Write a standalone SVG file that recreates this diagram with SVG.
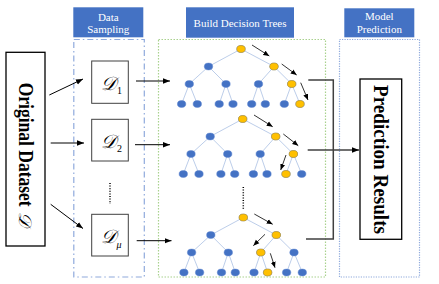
<svg xmlns="http://www.w3.org/2000/svg" xmlns:xlink="http://www.w3.org/1999/xlink" width="439" height="284" viewBox="0 0 439 284">
<style>
.hdr{fill:#4472C4}
.ht{font-family:"Liberation Serif",serif;font-size:11px;fill:#fff;text-anchor:middle}
.big{font-family:"Liberation Serif",serif;font-weight:bold;fill:#000}
.dl{font-family:"DejaVu Serif","Liberation Serif",serif;font-style:italic;fill:#000}
.box{fill:#fff;stroke:#000;stroke-width:1.3}
.dbox{fill:#fff;stroke:#404040;stroke-width:1}
.edge{stroke:#b4c7e7;stroke-width:0.9;fill:none}
.bn{fill:#4472C4;stroke:#5b83cf;stroke-width:0.5}
.on{fill:#FFC000;stroke:#c39a2c;stroke-width:0.6}
.ta{stroke:#000;stroke-width:0.8;fill:none;marker-end:url(#sa)}
.ma{stroke:#000;stroke-width:1;fill:none;marker-end:url(#ma)}
.br{stroke:#404040;stroke-width:1.5;fill:none}
</style>
<defs>
<marker id="sa" markerUnits="userSpaceOnUse" markerWidth="6" markerHeight="6" viewBox="0 0 6 6" refX="6" refY="3" orient="auto"><path d="M0,0.5 L6,3 L0,5.5 Z" fill="#000"/></marker>
<marker id="ma" markerUnits="userSpaceOnUse" markerWidth="7" markerHeight="7" viewBox="0 0 7 7" refX="7" refY="3.5" orient="auto"><path d="M0,0.8 L7,3.5 L0,6.2 Z" fill="#000"/></marker>
<g id="tree">
<path class="edge" d="M0,0 L-32.5,17.5 M0,0 L33,17.5 M-32.5,17.5 L-51.7,35 M-32.5,17.5 L-15,35 M33,17.5 L17.5,35 M33,17.5 L50.7,35 M-51.7,35 L-59.4,55 M-51.7,35 L-43.7,55 M-15,35 L-21.8,55 M-15,35 L-8,55 M17.5,35 L10.7,55 M17.5,35 L24.3,55 M50.7,35 L43.3,55 M50.7,35 L59,55"/>
<ellipse class="bn" cx="0" cy="0" rx="4.2" ry="3.4"/>
<ellipse class="bn" cx="-32.5" cy="17.5" rx="4.2" ry="3.4"/>
<ellipse class="bn" cx="33" cy="17.5" rx="4.2" ry="3.4"/>
<ellipse class="bn" cx="-51.7" cy="35" rx="4.2" ry="3.4"/>
<ellipse class="bn" cx="-15" cy="35" rx="4.2" ry="3.4"/>
<ellipse class="bn" cx="17.5" cy="35" rx="4.2" ry="3.4"/>
<ellipse class="bn" cx="50.7" cy="35" rx="4.2" ry="3.4"/>
<ellipse class="bn" cx="-59.4" cy="55" rx="4.2" ry="3.4"/>
<ellipse class="bn" cx="-43.7" cy="55" rx="4.2" ry="3.4"/>
<ellipse class="bn" cx="-21.8" cy="55" rx="4.2" ry="3.4"/>
<ellipse class="bn" cx="-8" cy="55" rx="4.2" ry="3.4"/>
<ellipse class="bn" cx="10.7" cy="55" rx="4.2" ry="3.4"/>
<ellipse class="bn" cx="24.3" cy="55" rx="4.2" ry="3.4"/>
<ellipse class="bn" cx="43.3" cy="55" rx="4.2" ry="3.4"/>
<ellipse class="bn" cx="59" cy="55" rx="4.2" ry="3.4"/>
</g>
</defs>
<rect width="439" height="284" fill="#fff"/>

<g id="data-sampling">
<rect class="hdr" x="73.3" y="7.3" width="70" height="30"/>
<text class="ht" x="108.3" y="20.5">Data</text>
<text class="ht" x="108.3" y="33">Sampling</text>
<rect x="73.8" y="39.5" width="70.5" height="237.5" fill="none" stroke="#8faadc" stroke-width="1.2" stroke-dasharray="6 3 1.5 3"/>
</g>
<g id="build-trees">
<rect class="hdr" x="186" y="7.3" width="108" height="30.4"/>
<text class="ht" x="240" y="27">Build Decision Trees</text>
<rect x="158.5" y="39.5" width="167" height="237.5" fill="none" stroke="#a9d18e" stroke-width="1.2" stroke-dasharray="1.5 1.5"/>
</g>
<g id="model-prediction">
<rect class="hdr" x="344.3" y="8.3" width="70" height="29"/>
<text class="ht" x="379.3" y="20">Model</text>
<text class="ht" x="379.3" y="33">Prediction</text>
<rect x="339.5" y="39.5" width="80" height="237.5" fill="none" stroke="#8faadc" stroke-width="1.2" stroke-dasharray="1.2 1.3"/>
</g>

<g id="original-dataset">
<rect class="box" x="6" y="52.3" width="39" height="193.7"/>
<text class="big" transform="translate(18.5,82.7) rotate(90)" font-size="20" textLength="124" lengthAdjust="spacingAndGlyphs">Original Dataset</text>
<text class="dl" transform="translate(18.5,212) rotate(90)" font-size="18">𝒟</text>
</g>

<g id="d1">
<rect class="dbox" x="91.7" y="61" width="36.6" height="42.3"/>
<text class="dl" x="101" y="90" font-size="19">𝒟</text>
<text x="117" y="94" font-family="Liberation Serif,serif" font-size="10">1</text>
</g>
<g id="d2">
<rect class="dbox" x="91.7" y="119.3" width="36.6" height="41.7"/>
<text class="dl" x="101" y="148" font-size="19">𝒟</text>
<text x="117" y="152" font-family="Liberation Serif,serif" font-size="10">2</text>
</g>
<g id="dmu">
<rect class="dbox" x="91.7" y="214.3" width="36.6" height="41.7"/>
<text class="dl" x="101" y="243" font-size="19">𝒟</text>
<text x="116.5" y="248" font-family="Liberation Serif,serif" font-size="10" font-style="italic">μ</text>
</g>
<g id="d-ellipsis">
<line x1="110" y1="183" x2="110" y2="204" stroke="#000" stroke-width="1.5" stroke-dasharray="1 1.6"/>
</g>

<g id="tree1">
<use xlink:href="#tree" href="#tree" transform="translate(241,49)"/>
<ellipse class="on" cx="241" cy="49" rx="4.2" ry="3.4"/>
<ellipse class="on" cx="274" cy="66.5" rx="4.2" ry="3.4"/>
<ellipse class="on" cx="291.7" cy="84" rx="4.2" ry="3.4"/>
<ellipse class="on" cx="300" cy="104" rx="4.2" ry="3.4"/>
</g>
<g id="tree2">
<use xlink:href="#tree" href="#tree" transform="translate(242.7,119)"/>
<ellipse class="on" cx="242.7" cy="119" rx="4.2" ry="3.4"/>
<ellipse class="on" cx="275.7" cy="136.5" rx="4.2" ry="3.4"/>
<ellipse class="on" cx="293.4" cy="154" rx="4.2" ry="3.4"/>
<ellipse class="on" cx="286" cy="174" rx="4.2" ry="3.4"/>
</g>
<g id="tree-ellipsis">
<line x1="243.3" y1="187" x2="243.3" y2="209" stroke="#000" stroke-width="1.5" stroke-dasharray="1 1.6"/>
</g>
<g id="tree3">
<use xlink:href="#tree" href="#tree" transform="translate(243.3,217.5)"/>
<ellipse class="on" cx="243.3" cy="217.5" rx="4.2" ry="3.4"/>
<ellipse class="on" cx="276.3" cy="235" rx="4.2" ry="3.4"/>
<ellipse class="on" cx="260.8" cy="252.5" rx="4.2" ry="3.4"/>
<ellipse class="on" cx="267.6" cy="272.5" rx="4.2" ry="3.4"/>
</g>

<g id="prediction-results">
<rect class="box" x="360" y="79" width="41.7" height="160.3"/>
<text class="big" transform="translate(374,85) rotate(90)" font-size="21" textLength="149" lengthAdjust="spacingAndGlyphs">Prediction Results</text>
</g>

<g id="connectors">
<line class="ma" x1="49.3" y1="95" x2="83" y2="79"/>
<line class="ma" x1="50.7" y1="143" x2="84" y2="143"/>
<line class="ma" x1="50.7" y1="204.3" x2="83" y2="228.5"/>
<line class="ma" x1="136" y1="81" x2="170" y2="81"/>
<line class="ma" x1="135" y1="144.7" x2="170" y2="144.7"/>
<line class="ma" x1="136.7" y1="240.7" x2="171.5" y2="240.7"/>
<line class="ta" x1="252" y1="45" x2="269.3" y2="56"/>
<line class="ta" x1="281.7" y1="64" x2="296.7" y2="75"/>
<line class="ta" x1="300.7" y1="82.7" x2="308" y2="100"/>
<line class="ta" x1="254" y1="115" x2="272.7" y2="126.7"/>
<line class="ta" x1="283.3" y1="134" x2="298.3" y2="145.7"/>
<line class="ta" x1="286" y1="155" x2="280.7" y2="170"/>
<line class="ta" x1="254.3" y1="214" x2="272.7" y2="224.3"/>
<line class="ta" x1="265" y1="234.3" x2="253.3" y2="245.7"/>
<line class="ta" x1="270.3" y1="253.3" x2="275" y2="267.7"/>
<path class="br" d="M308.3,80 H333.3 V239 H306"/>
<line class="br" x1="307.7" y1="150" x2="359" y2="150" stroke-width="1.3" marker-end="url(#ma)"/>
</g>
</svg>
